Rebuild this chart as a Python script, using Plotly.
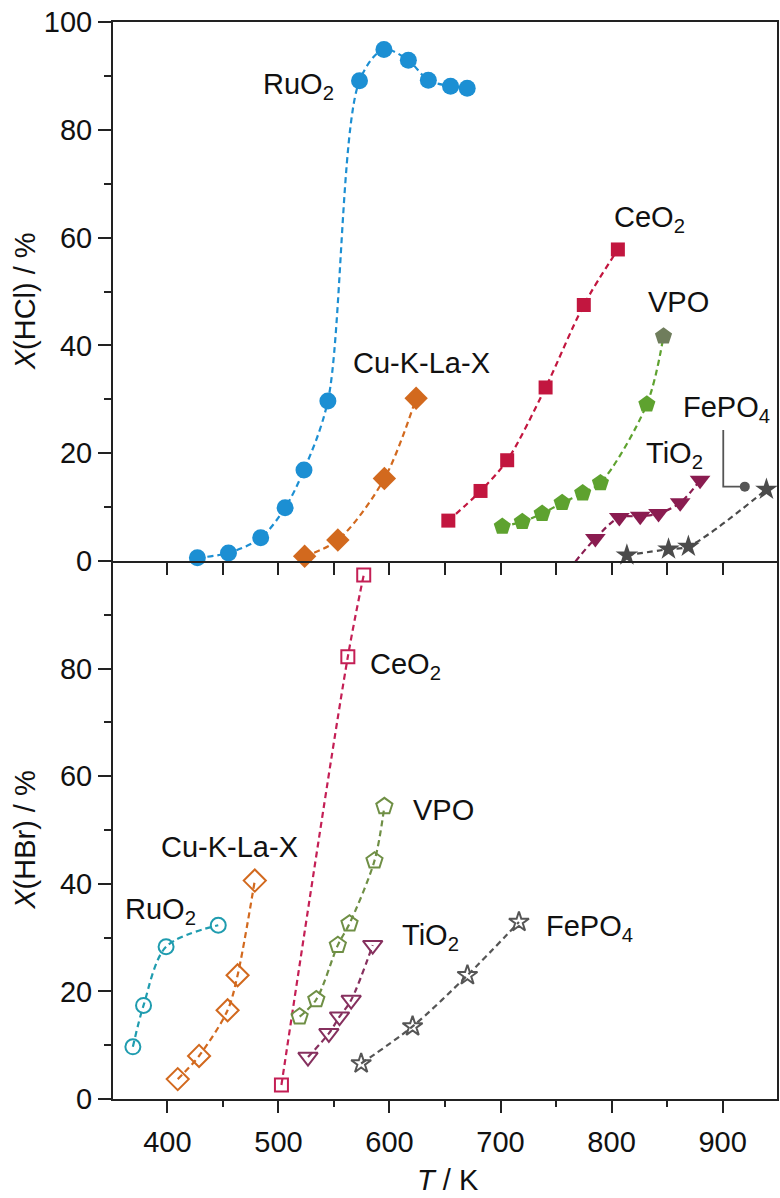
import plotly.graph_objects as go

# ---------------- data: X(HCl) conversion (top panel) ----------------
hcl_ruo2_T = [427, 455, 484, 506, 523, 544.5, 573, 595, 617, 635, 655, 670]
hcl_ruo2_X = [0.6, 1.5, 4.3, 9.9, 16.9, 29.7, 89.1, 94.9, 92.9, 89.2, 88.1, 87.7]

hcl_cu_T = [523.6, 553.5, 595.4, 624]
hcl_cu_X = [0.9, 3.9, 15.3, 30.2]

hcl_ceo2_T = [653, 682, 706, 740.6, 775, 805.7]
hcl_ceo2_X = [7.5, 13.0, 18.7, 32.2, 47.5, 57.8]

hcl_vpo_T = [701.6, 719.6, 737.5, 755.5, 774, 790, 831.8, 846.8]
hcl_vpo_X = [6.4, 7.3, 8.8, 10.8, 12.6, 14.5, 29.1, 41.7]

hcl_tio2_T = [767.4, 785.4, 807, 825.8, 842.3, 861.8, 879.7]
hcl_tio2_X = [-0.1, 4.2, 8.1, 8.3, 8.8, 10.8, 15.0]

hcl_fepo4_T = [813.8, 851.3, 869.2, 939.5]
hcl_fepo4_X = [1.1, 2.2, 2.7, 13.3]

# ---------------- data: X(HBr) conversion (bottom panel) ----------------
hbr_ruo2_T = [368.9, 378.5, 398.8, 445.8]
hbr_ruo2_X = [9.7, 17.4, 28.3, 32.3]

hbr_cu_T = [409.3, 428.5, 454.2, 463.2, 478.7]
hbr_cu_X = [3.7, 8.0, 16.5, 23.0, 40.6]

hbr_ceo2_T = [502.7, 562.5, 576.8]
hbr_ceo2_X = [2.6, 82.2, 97.4]

hbr_vpo_T = [519.1, 534.1, 553.5, 564, 586.5, 595.4]
hbr_vpo_X = [15.3, 18.5, 28.6, 32.6, 44.3, 54.4]

hbr_tio2_T = [526.6, 545.4, 555, 565.5, 584.9]
hbr_tio2_X = [7.8, 12.2, 15.3, 18.4, 28.6]

hbr_fepo4_T = [574.5, 620.8, 670.2, 716.6]
hbr_fepo4_X = [6.6, 13.5, 23.0, 32.9]

# leader from the FePO4 label to its HCl curve (x, y in data units)
fepo4_leader_T = [900.6, 900.6, 920]
fepo4_leader_X = [24.3, 13.8, 13.8]

FONT = "Liberation Sans, Arial, Helvetica, sans-serif"
FS = 29

C_RUO2 = "#1c8fd3"
C_CU = "#d2691e"
C_CEO2 = "#c2163f"
C_VPO = "#5ea22f"
C_TIO2 = "#8a1c50"
C_FEPO4 = "#4b4b4b"
C_RUO2_BR = "#1f9caf"
C_CEO2_BR = "#c41f55"
C_VPO_BR = "#6f8f45"
C_TIO2_BR = "#86305e"
C_FEPO4_BR = "#555555"

fig = go.Figure()


def add_series(T, X, color, symbol, size, xa, ya, line_color=None, open_marker=False,
               marker_colors=None):
    marker = dict(symbol=symbol, size=size)
    if open_marker:
        marker.update(color=color, line=dict(color=color, width=2))
    else:
        marker.update(color=marker_colors if marker_colors else color,
                      line=dict(width=0))
    fig.add_trace(go.Scatter(
        x=T, y=X, mode="lines+markers", xaxis=xa, yaxis=ya,
        line=dict(color=line_color or color, width=2.2, dash="6px,4px",
                  shape="spline", smoothing=0.9),
        marker=marker, cliponaxis=False, showlegend=False, hoverinfo="x+y"))


# top panel (xaxis2 / yaxis2)
add_series(hcl_ruo2_T, hcl_ruo2_X, C_RUO2, "circle", 17, "x2", "y2")
add_series(hcl_cu_T, hcl_cu_X, C_CU, "diamond", 18, "x2", "y2")
add_series(hcl_ceo2_T, hcl_ceo2_X, C_CEO2, "square", 14, "x2", "y2")
add_series(hcl_vpo_T, hcl_vpo_X, C_VPO, "pentagon", 18, "x2", "y2",
           marker_colors=[C_VPO] * (len(hcl_vpo_T) - 1) + ["#6f7d5c"])
add_series(hcl_tio2_T, hcl_tio2_X, C_TIO2, "triangle-down", 18, "x2", "y2")
add_series(hcl_fepo4_T, hcl_fepo4_X, C_FEPO4, "star", 17, "x2", "y2")

# FePO4 leader line and its end dot
fig.add_trace(go.Scatter(
    x=fepo4_leader_T, y=fepo4_leader_X, mode="lines", xaxis="x2", yaxis="y2",
    line=dict(color="#555555", width=1.8), showlegend=False, hoverinfo="skip"))
fig.add_trace(go.Scatter(
    x=fepo4_leader_T[-1:], y=fepo4_leader_X[-1:], mode="markers", xaxis="x2", yaxis="y2",
    marker=dict(symbol="circle", size=10, color="#555555"), showlegend=False,
    hoverinfo="skip"))

# bottom panel (xaxis / yaxis)
add_series(hbr_ruo2_T, hbr_ruo2_X, C_RUO2_BR, "circle-open", 15, "x", "y", open_marker=True)
add_series(hbr_cu_T, hbr_cu_X, C_CU, "diamond-open", 17, "x", "y", open_marker=True)
add_series(hbr_ceo2_T, hbr_ceo2_X, C_CEO2_BR, "square-open", 13, "x", "y", open_marker=True)
add_series(hbr_vpo_T, hbr_vpo_X, C_VPO_BR, "pentagon-open", 17, "x", "y", open_marker=True)
add_series(hbr_tio2_T, hbr_tio2_X, C_TIO2_BR, "triangle-down-open", 17, "x", "y",
           open_marker=True)
add_series(hbr_fepo4_T, hbr_fepo4_X, C_FEPO4_BR, "star-open", 15, "x", "y",
           open_marker=True)

# catalyst labels: (text, T, X, panel axes, xanchor)
labels = [
    ("RuO<sub>2</sub>", 552, 88.2, "x2", "y2", "right"),
    ("CeO<sub>2</sub>", 834.6, 63.4, "x2", "y2", "center"),
    ("VPO", 860, 48, "x2", "y2", "center"),
    ("Cu-K-La-X", 628.6, 36.7, "x2", "y2", "center"),
    ("FePO<sub>4</sub>", 903.6, 28.2, "x2", "y2", "center"),
    ("TiO<sub>2</sub>", 857, 19.6, "x2", "y2", "center"),
    ("CeO<sub>2</sub>", 614.1, 80.5, "x", "y", "center"),
    ("VPO", 648.5, 53.8, "x", "y", "center"),
    ("Cu-K-La-X", 456.3, 46.9, "x", "y", "center"),
    ("RuO<sub>2</sub>", 394, 34.9, "x", "y", "center"),
    ("TiO<sub>2</sub>", 636.8, 30.1, "x", "y", "center"),
    ("FePO<sub>4</sub>", 780.4, 31.8, "x", "y", "center"),
]
annotations = []
for text, tx, ty, xr, yr, xanc in labels:
    annotations.append(dict(text=text, x=tx, y=ty, xref=xr, yref=yr, xanchor=xanc,
                            yanchor="middle", showarrow=False,
                            font=dict(family=FONT, size=FS, color="#111111")))

# axis titles
annotations += [
    dict(text="<i>X</i>(HCl) / %", x=-0.132, y=0.741, xref="paper", yref="paper",
         textangle=-90, showarrow=False, xanchor="center", yanchor="middle",
         font=dict(family=FONT, size=FS, color="#111111")),
    dict(text="<i>X</i>(HBr) / %", x=-0.132, y=0.241, xref="paper", yref="paper",
         textangle=-90, showarrow=False, xanchor="center", yanchor="middle",
         font=dict(family=FONT, size=FS, color="#111111")),
    dict(text="<i>T</i> / K", x=0.5045, y=-0.075, xref="paper", yref="paper",
         showarrow=False, xanchor="center", yanchor="middle",
         font=dict(family=FONT, size=FS, color="#111111")),
]

AX_LINE = dict(showline=True, linecolor="#222222", linewidth=2,
               showgrid=False, zeroline=False, tickcolor="#222222", tickwidth=1.6,
               tickfont=dict(family=FONT, size=FS, color="#111111"))

T_RANGE = [351, 949]

fig.update_layout(
    width=780, height=1198,
    margin=dict(l=113, r=1, t=22, b=99),
    paper_bgcolor="white", plot_bgcolor="white",
    annotations=annotations,
    # bottom panel: its top edge is drawn by the top panel's x axis line
    xaxis=dict(domain=[0, 1], range=T_RANGE, anchor="y", mirror=False,
               tickvals=[400, 500, 600, 700, 800, 900],
               ticks="outside", ticklen=12, ticklabelstandoff=4,
               minor=dict(tickvals=[350, 450, 550, 650, 750, 850, 950], ticks="outside",
                          ticklen=6, tickcolor="#222222", tickwidth=1.6),
               **AX_LINE),
    yaxis=dict(domain=[0, 0.4995], range=[0, 100], anchor="x", mirror=True,
               tickvals=[0, 20, 40, 60, 80], ticks="outside", ticklen=13,
               minor=dict(tickvals=[10, 30, 50, 70, 90], ticks="outside", ticklen=7,
                          tickcolor="#222222", tickwidth=1.6),
               **AX_LINE),
    xaxis2=dict(domain=[0, 1], range=T_RANGE, anchor="y2", mirror=True,
                showticklabels=False,
                tickvals=[350, 400, 450, 500, 550, 600, 650, 700, 750, 800, 850, 900, 950],
                ticks="outside", ticklen=12, **AX_LINE),
    yaxis2=dict(domain=[0.4995, 1], range=[0, 100], anchor="x2", mirror=True,
                tickvals=[0, 20, 40, 60, 80, 100], ticks="outside", ticklen=13,
                minor=dict(tickvals=[10, 30, 50, 70, 90], ticks="outside", ticklen=7,
                           tickcolor="#222222", tickwidth=1.6),
                **AX_LINE),
)

fig.write_html("out.html")
